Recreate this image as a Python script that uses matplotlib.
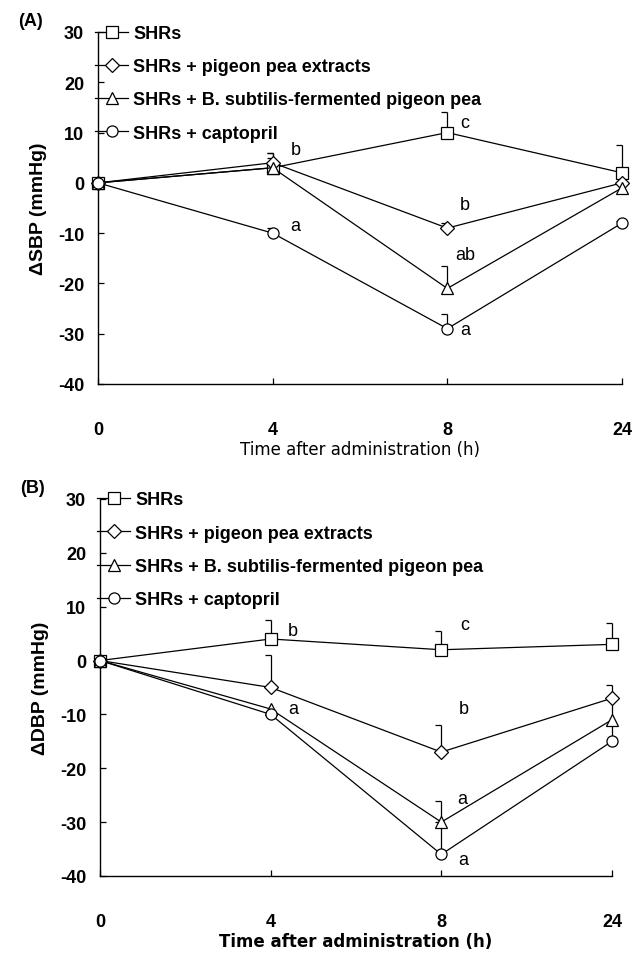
import numpy as np
import matplotlib
matplotlib.use('Agg')
import matplotlib.pyplot as plt
from matplotlib.markers import TICKLEFT

plt.rcParams['axes.unicode_minus'] = False

# time points (categorical, equally spaced on the axis)
time_labels = ['0', '4', '8', '24']

group_names = ['SHRs', 'SHRs + pigeon pea extracts',
               'SHRs + B. subtilis-fermented pigeon pea', 'SHRs + captopril']
group_markers = ['s', 'D', '^', 'o']

# (A) change in systolic blood pressure, mmHg
sbp_shr = [0, 3, 10, 2]
sbp_pea = [0, 4, -9, 0]
sbp_ferm = [0, 3, -21, -1]
sbp_capt = [0, -10, -29, -8]
# upper error bars
sbp_shr_err = [0, 3, 4, 5.5]
sbp_pea_err = [0, 2, 1, 0]
sbp_ferm_err = [0, 2, 4.5, 0]
sbp_capt_err = [0, 1, 3, 0.5]

# (B) change in diastolic blood pressure, mmHg
dbp_shr = [0, 4, 2, 3]
dbp_pea = [0, -5, -17, -7]
dbp_ferm = [0, -9, -30, -11]
dbp_capt = [0, -10, -36, -15]
dbp_shr_err = [0, 3.5, 3.5, 4]
dbp_pea_err = [0, 6, 5, 2.5]
dbp_ferm_err = [0, 0, 4, 4]
dbp_capt_err = [0, 0, 6, 3]

# significance letters: (x index, y value, letter)
sbp_letters = [(1.13, 6.6, 'b'), (1.13, -8.5, 'a'), (2.1, 12, 'c'),
               (2.1, -4.4, 'b'), (2.1, -14.3, 'ab'), (2.1, -29.2, 'a')]
dbp_letters = [(1.13, 5.5, 'b'), (1.13, -9, 'a'), (2.14, 6.7, 'c'),
               (2.13, -9, 'b'), (2.12, -25.6, 'a'), (2.13, -37, 'a')]

TICK_FONT = 'Liberation Sans'


def draw_panel(ax, series, errors, letters, ylabel, panel, xlabel_bold):
    x = np.arange(len(time_labels))
    for vals, err, name, mk in zip(series, errors, group_names, group_markers):
        vals = np.array(vals, dtype=float)
        err = np.array(err, dtype=float)
        # upward error bars with a small cap on the left
        ax.vlines(x, vals, vals + err, color='k', lw=0.9, zorder=2, clip_on=False)
        has = err > 0
        ax.plot(x[has], (vals + err)[has], ls='none', marker=TICKLEFT,
                ms=4, mew=0.9, color='k', zorder=2, clip_on=False)
        ms = {'s': 8.5, 'D': 7, '^': 9, 'o': 8}[mk]
        ax.plot(x, vals, color='k', lw=0.9, marker=mk, ms=ms, mfc='white',
                mec='k', mew=0.9, label=name, zorder=3, clip_on=False)

    for lx, ly, txt in letters:
        ax.text(lx, ly, txt, fontsize=13, family=TICK_FONT, ha='center',
                va='center', zorder=4)

    ax.set_xlim(0, 3)
    ax.set_ylim(-40, 30)
    ax.set_xticks(x)
    ax.set_xticklabels(time_labels)
    ax.set_yticks(np.arange(-40, 31, 10))
    for sp in ['top', 'right']:
        ax.spines[sp].set_visible(False)
    for sp in ['left', 'bottom']:
        ax.spines[sp].set_linewidth(1.0)
    ax.tick_params(axis='both', direction='in', length=4, width=0.9)
    ax.tick_params(axis='x', pad=27)
    ax.tick_params(axis='y', pad=10)
    for lab in ax.get_xticklabels() + ax.get_yticklabels():
        lab.set_family(TICK_FONT)
        lab.set_fontweight('bold')
        lab.set_fontsize(13)

    ax.set_ylabel(ylabel, fontsize=14, fontweight='bold', family=TICK_FONT,
                  labelpad=8)
    ax.set_xlabel('Time after administration (h)', fontsize=12,
                  fontweight='bold' if xlabel_bold else 'normal',
                  family='DejaVu Sans', labelpad=1)

    leg = ax.legend(loc='upper left', bbox_to_anchor=(-0.005, 1.02),
                    frameon=False, handlelength=1.8, handletextpad=0.3,
                    labelspacing=0.9, borderaxespad=0, borderpad=0,
                    prop={'family': TICK_FONT, 'size': 13})
    for t in leg.get_texts():
        t.set_fontweight('bold')

    ax.figure.text(ax.get_position().x0 - 0.125, ax.get_position().y1 + 0.012,
                   panel, fontsize=13, fontweight='bold', family=TICK_FONT,
                   va='center')


fig = plt.figure(figsize=(6.38, 9.62), dpi=100)
ax_a = fig.add_axes([0.1536, 0.5998, 0.8213, 0.3659])
ax_b = fig.add_axes([0.1567, 0.0884, 0.8025, 0.3919])

draw_panel(ax_a, [sbp_shr, sbp_pea, sbp_ferm, sbp_capt],
           [sbp_shr_err, sbp_pea_err, sbp_ferm_err, sbp_capt_err],
           sbp_letters, '\u0394SBP (mmHg)', '(A)', False)
draw_panel(ax_b, [dbp_shr, dbp_pea, dbp_ferm, dbp_capt],
           [dbp_shr_err, dbp_pea_err, dbp_ferm_err, dbp_capt_err],
           dbp_letters, '\u0394DBP (mmHg)', '(B)', True)

fig.savefig('out.png', dpi=100)
